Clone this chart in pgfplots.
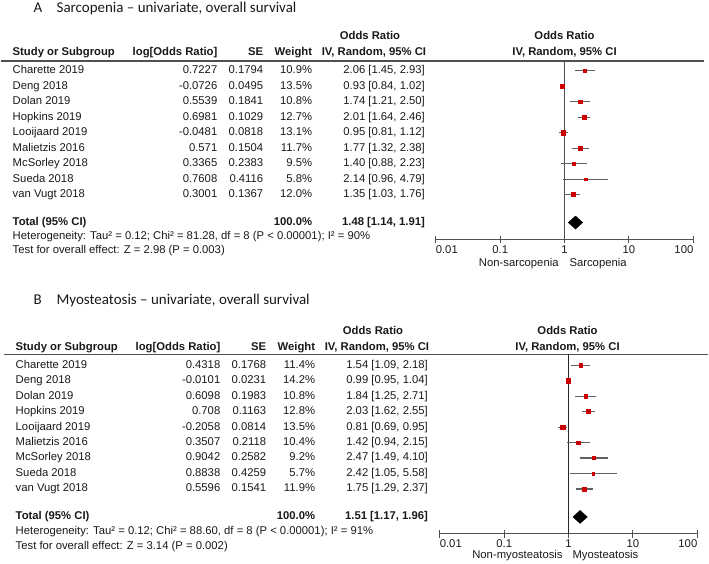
\documentclass[border=0pt]{standalone}
\usepackage{fontspec}
\setmainfont{Liberation Sans}
\newfontfamily\titlefont{Carlito}
\usepackage{pgfplots}
\pgfplotsset{compat=1.18}
\definecolor{sqred}{RGB}{204,0,0}
\definecolor{txt}{RGB}{25,25,25}
\definecolor{ln}{RGB}{80,80,80}
\newcommand\tf{\fontsize{11.3bp}{13bp}\selectfont}
\tikzset{t/.style={inner sep=0pt, outer sep=0pt, text=txt, font=\tf, text height=8.2bp, text depth=2.3bp}}
% row: #1 dx, #2 y, #3 name, #4 log, #5 se, #6 weight, #7 OR text
\newcommand\row[7]{%
  \node[t, anchor=west] at (12+#1,-#2) {#3};
  \node[t, anchor=east] at (217+#1,-#2) {#4};
  \node[t, anchor=east] at (263+#1,-#2) {#5};
  \node[t, anchor=east] at (312+#1,-#2) {#6};
  \node[t, anchor=east] at (425+#1,-#2) {#7};}
\newcommand\ci[3]{\addplot[draw=black!62, line width=1.2bp] coordinates {(#1,-#3) (#2,-#3)};}

\begin{document}
\begin{tikzpicture}[x=1bp,y=1bp]
\path (0,0) rectangle (709,-565);

% ================= Panel A =================
\node[t, anchor=west, font=\titlefont\fontsize{15bp}{17bp}\selectfont, text height=10bp, text depth=3bp] at (33,-9) {A};
\node[t, anchor=west, font=\titlefont\fontsize{15bp}{17bp}\selectfont, text height=10bp, text depth=3bp] at (56,-9) {Sarcopenia – univariate, overall survival};

\node[t] at (370,-37) {\bfseries Odds Ratio};
\node[t] at (374,-53) {\bfseries IV, Random, 95\% CI};
\node[t] at (565,-37) {\bfseries Odds Ratio};
\node[t] at (565,-53) {\bfseries IV, Random, 95\% CI};
\node[t, anchor=west] at (12,-53) {\bfseries Study or Subgroup};
\node[t, anchor=east] at (217,-53) {\bfseries log[Odds Ratio]};
\node[t, anchor=east] at (263,-53) {\bfseries SE};
\node[t, anchor=east] at (312,-53) {\bfseries Weight};
\draw[ln, line width=1.5bp] (0,-61) -- (705,-61);

\row{0}{71}{Charette 2019}{0.7227}{0.1794}{10.9\%}{2.06 [1.45, 2.93]}
\row{0}{86.5}{Deng 2018}{-0.0726}{0.0495}{13.5\%}{0.93 [0.84, 1.02]}
\row{0}{102}{Dolan 2019}{0.5539}{0.1841}{10.8\%}{1.74 [1.21, 2.50]}
\row{0}{117.5}{Hopkins 2019}{0.6981}{0.1029}{12.7\%}{2.01 [1.64, 2.46]}
\row{0}{133}{Looijaard 2019}{-0.0481}{0.0818}{13.1\%}{0.95 [0.81, 1.12]}
\row{0}{148.5}{Malietzis 2016}{0.571}{0.1504}{11.7\%}{1.77 [1.32, 2.38]}
\row{0}{164}{McSorley 2018}{0.3365}{0.2383}{9.5\%}{1.40 [0.88, 2.23]}
\row{0}{179.5}{Sueda 2018}{0.7608}{0.4116}{5.8\%}{2.14 [0.96, 4.79]}
\row{0}{195}{van Vugt 2018}{0.3001}{0.1367}{12.0\%}{1.35 [1.03, 1.76]}
\node[t, anchor=west] at (12,-223) {\bfseries Total (95\% CI)};
\node[t, anchor=east] at (312,-223) {\bfseries 100.0\%};
\node[t, anchor=east] at (425,-223) {\bfseries 1.48 [1.14, 1.91]};
\node[t, anchor=west] at (12,-237) {Heterogeneity: Tau² = 0.12; Chi² = 81.28, df = 8 (P < 0.00001); I² = 90\%};
\node[t, anchor=west] at (12,-251) {Test for overall effect: Z = 2.98 (P = 0.003)};
\node[t, anchor=east] at (559,-264) {Non-sarcopenia};
\node[t, anchor=west] at (570,-264) {Sarcopenia};

\begin{axis}[at={(436bp,-240bp)}, anchor=south west, scale only axis,
  width=258bp, height=179bp, xmode=log, xmin=0.01, xmax=100, ymin=-240, ymax=-61,
  axis y line=none, axis x line*=bottom,
  axis line style={-, draw=ln, line width=1.1bp},
  xtick={0.01,0.1,1,10,100}, xticklabels={\rlap{0.01},0.1,1,10,\llap{100}},
  xminorticks=false, tick align=center, major tick length=8bp,
  tick style={draw=ln, line width=1.1bp},
  xticklabel style={font=\tf, text=txt, inner sep=2bp},
  clip=false]
\addplot[draw=ln, line width=1.1bp] coordinates {(1,-61) (1,-240)};
\ci{1.45}{2.93}{71}
\ci{0.84}{1.02}{86.5}
\ci{1.21}{2.50}{102}
\ci{1.64}{2.46}{117.5}
\ci{0.81}{1.12}{133}
\ci{1.32}{2.38}{148.5}
\ci{0.88}{2.23}{164}
\ci{0.96}{4.79}{179.5}
\ci{1.03}{1.76}{195}
\addplot[scatter, only marks, mark=square*, scatter/use mapped color={draw=sqred, fill=sqred},
  visualization depends on={0.6+0.11*\thisrow{w} \as \ms},
  scatter/@pre marker code/.append style={/tikz/mark size=\ms}]
  table {
x y w
2.06 -71 10.9
0.93 -86.5 13.5
1.74 -102 10.8
2.01 -117.5 12.7
0.95 -133 13.1
1.77 -148.5 11.7
1.40 -164 9.5
2.14 -179.5 5.8
1.35 -195 12.0
};
\addplot[fill=black, draw=black] coordinates {(1.14,-223) (1.48,-216.5) (1.91,-223) (1.48,-229.5)} -- cycle;
\end{axis}

% ================= Panel B =================
\node[t, anchor=west, font=\titlefont\fontsize{15bp}{17bp}\selectfont, text height=10bp, text depth=3bp] at (33,-302) {B};
\node[t, anchor=west, font=\titlefont\fontsize{15bp}{17bp}\selectfont, text height=10bp, text depth=3bp] at (56,-302) {Myosteatosis – univariate, overall survival};

\node[t] at (373,-332) {\bfseries Odds Ratio};
\node[t] at (377,-348) {\bfseries IV, Random, 95\% CI};
\node[t] at (568,-332) {\bfseries Odds Ratio};
\node[t] at (568,-348) {\bfseries IV, Random, 95\% CI};
\node[t, anchor=west] at (15,-348) {\bfseries Study or Subgroup};
\node[t, anchor=east] at (220,-348) {\bfseries log[Odds Ratio]};
\node[t, anchor=east] at (266,-348) {\bfseries SE};
\node[t, anchor=east] at (315,-348) {\bfseries Weight};
\draw[ln, line width=1.5bp] (3,-355) -- (709,-355);

\row{3}{366}{Charette 2019}{0.4318}{0.1768}{11.4\%}{1.54 [1.09, 2.18]}
\row{3}{381.5}{Deng 2018}{-0.0101}{0.0231}{14.2\%}{0.99 [0.95, 1.04]}
\row{3}{397}{Dolan 2019}{0.6098}{0.1983}{10.8\%}{1.84 [1.25, 2.71]}
\row{3}{412.5}{Hopkins 2019}{0.708}{0.1163}{12.8\%}{2.03 [1.62, 2.55]}
\row{3}{428}{Looijaard 2019}{-0.2058}{0.0814}{13.5\%}{0.81 [0.69, 0.95]}
\row{3}{443.5}{Malietzis 2016}{0.3507}{0.2118}{10.4\%}{1.42 [0.94, 2.15]}
\row{3}{459}{McSorley 2018}{0.9042}{0.2582}{9.2\%}{2.47 [1.49, 4.10]}
\row{3}{474.5}{Sueda 2018}{0.8838}{0.4259}{5.7\%}{2.42 [1.05, 5.58]}
\row{3}{490}{van Vugt 2018}{0.5596}{0.1541}{11.9\%}{1.75 [1.29, 2.37]}
\node[t, anchor=west] at (15,-518) {\bfseries Total (95\% CI)};
\node[t, anchor=east] at (315,-518) {\bfseries 100.0\%};
\node[t, anchor=east] at (428,-518) {\bfseries 1.51 [1.17, 1.96]};
\node[t, anchor=west] at (15,-533) {Heterogeneity: Tau² = 0.12; Chi² = 88.60, df = 8 (P < 0.00001); I² = 91\%};
\node[t, anchor=west] at (15,-548) {Test for overall effect: Z = 3.14 (P = 0.002)};
\node[t, anchor=east] at (563,-557) {Non-myosteatosis};
\node[t, anchor=west] at (573,-557) {Myosteatosis};

\begin{axis}[at={(440bp,-535bp)}, anchor=south west, scale only axis,
  width=258bp, height=180bp, xmode=log, xmin=0.01, xmax=100, ymin=-535, ymax=-355,
  axis y line=none, axis x line*=bottom,
  axis line style={-, draw=ln, line width=1.1bp},
  xtick={0.01,0.1,1,10,100}, xticklabels={\rlap{0.01},0.1,1,10,\llap{100}},
  xminorticks=false, tick align=center, major tick length=8bp,
  tick style={draw=ln, line width=1.1bp},
  xticklabel style={font=\tf, text=txt, inner sep=1.5bp},
  clip=false]
\addplot[draw=black!85, line width=1.1bp] coordinates {(1,-355) (1,-535)};
\ci{1.09}{2.18}{366}
\ci{0.95}{1.04}{381.5}
\ci{1.25}{2.71}{397}
\ci{1.62}{2.55}{412.5}
\ci{0.69}{0.95}{428}
\ci{0.94}{2.15}{443.5}
\ci{1.49}{4.10}{459}
\ci{1.05}{5.58}{474.5}
\ci{1.29}{2.37}{490}
\addplot[scatter, only marks, mark=square*, scatter/use mapped color={draw=sqred, fill=sqred},
  visualization depends on={0.6+0.11*\thisrow{w} \as \ms},
  scatter/@pre marker code/.append style={/tikz/mark size=\ms}]
  table {
x y w
1.54 -366 11.4
0.99 -381.5 14.2
1.84 -397 10.8
2.03 -412.5 12.8
0.81 -428 13.5
1.42 -443.5 10.4
2.47 -459 9.2
2.42 -474.5 5.7
1.75 -490 11.9
};
\addplot[fill=black, draw=black] coordinates {(1.17,-518) (1.51,-511.5) (1.96,-518) (1.51,-524.5)} -- cycle;
\end{axis}
\end{tikzpicture}
\end{document}
